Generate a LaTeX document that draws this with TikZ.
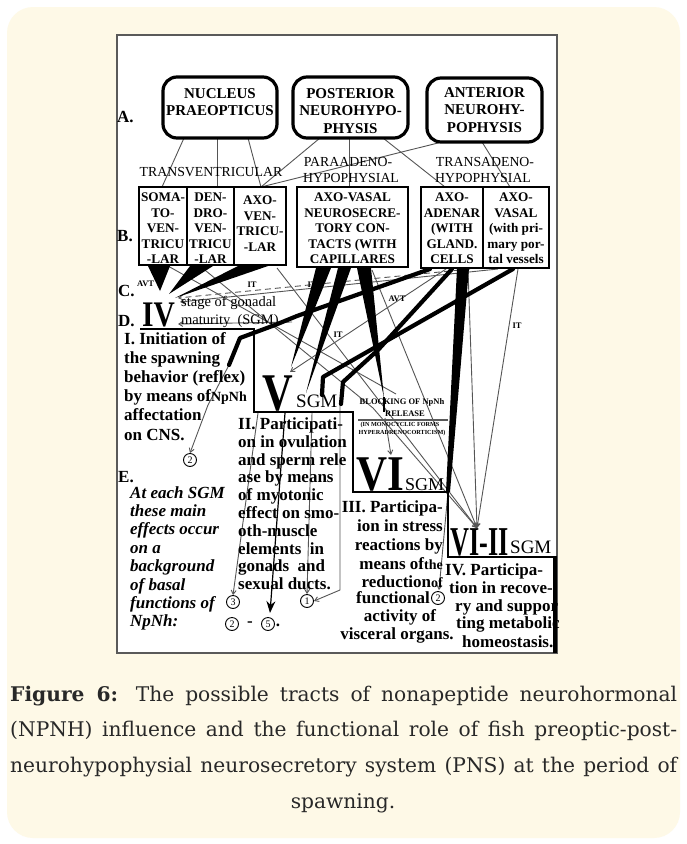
\documentclass[tikz,border=0pt]{standalone}
\usepackage{fontspec}
\setmainfont{Liberation Serif}
\newfontfamily\capfont{DejaVu Serif}
\usetikzlibrary{arrows.meta,calc}
\definecolor{cream}{RGB}{254,249,231}
\definecolor{capgray}{RGB}{40,40,40}
\definecolor{thinc}{RGB}{85,85,85}
\definecolor{framec}{RGB}{90,90,90}
\tikzset{
  abox/.style={draw=black,fill=white,line width=3.2pt,rounded corners=14pt,inner sep=0pt},
  bbox/.style={draw=black,fill=white,line width=2.6pt,inner sep=0pt},
  atxt/.style={font=\fontsize{15}{17.5}\selectfont\bfseries,align=center,inner sep=0pt},
  btxt/.style={font=\fontsize{13.2}{15.6}\selectfont\bfseries,align=center,inner sep=0pt},
  rtxt/.style={font=\fontsize{13.8}{16}\selectfont,inner sep=0pt},
  sec/.style={font=\fontsize{17}{19}\selectfont\bfseries,inner sep=0pt},
  esec/.style={font=\fontsize{17}{19}\selectfont\bfseries\itshape,inner sep=0pt},
  lab/.style={font=\fontsize{17}{19}\selectfont\bfseries,inner sep=0pt},
  tinytxt/.style={font=\fontsize{8.5}{9}\selectfont\bfseries,inner sep=0pt},
  microtxt/.style={font=\fontsize{6.2}{7}\selectfont\bfseries,inner sep=0pt},
  circ/.style={draw=black,circle,line width=0.9pt,inner sep=0pt,minimum size=13pt,font=\fontsize{10}{10}\selectfont},
  thinl/.style={draw=thinc,line width=0.9pt},
  arr/.style={-{Straight Barb[length=4pt,width=5pt]}},
  heavy/.style={draw=black,line width=4.2pt,line join=round,line cap=round},
  stair/.style={draw=black,line width=2.2pt,line join=miter},
  captxt/.style={font=\capfont\fontsize{20.2}{20.2}\selectfont,text=capgray,inner sep=0pt}
}
\begin{document}
\begin{tikzpicture}[x=1pt,y=-1pt]
\useasboundingbox (0,0) rectangle (687,844);
\fill[white] (0,0) rectangle (687,844);
\fill[cream,rounded corners=26pt] (7,7) rectangle (680,838);
\draw[fill=white,draw=framec,line width=1.2pt] (117,35) rectangle (557,653);

% ---------- thin connectors A -> B ----------
\draw[thinl] (184,138) -- (162,187);
\draw[thinl] (217,138) -- (217,187);
\draw[thinl] (248,138) -- (261,187);
\draw[thinl] (320,138) -- (261,187);
\draw[thinl] (442,142) -- (261,187);
\draw[thinl] (349,138) -- (349,187);
\draw[thinl] (383,138) -- (445,187);
\draw[thinl] (482,142) -- (510,187);

% ---------- thin connectors below B ----------
\coordinate (viitip) at (477,528);
\draw[thinl,arr] (498,269) -- (180,302);
\draw[thinl,arr] (292,322) -- (178,324);
\draw[thinl,dashed,dash pattern=on 6pt off 4pt,arr] (470,269) -- (178,298);
\draw[thinl] (168,266) -- (396,394);
\draw[thinl,arr] (200,266) -- (373,408) -- (viitip);
\draw[thinl,arr] (277,268) -- (viitip);
\draw[thinl,arr] (372,270) -- (viitip);
\draw[thinl,arr] (468,269) -- (viitip);
\draw[thinl,arr] (518,269) -- (viitip);
\draw[thinl,arr] (446,269) -- (290,372);
\draw[thinl,arr] (385,418) -- (391,455);
\draw[thinl,arr] (448,492) -- (439,590);

% ---------- bottom circled numbers ----------
\node[circ] (cIa) at (190,460) {2};
\node[circ] (c3) at (233,602) {3};
\node[circ] (c1) at (307,601) {1};
\node[circ] (c2b) at (232,624) {2};
\node[circ] (c5) at (268,624) {5};
\node[circ] (cIII) at (438,598) {2};
\node[sec] (dsh) at (250,624) {-};
\node[sec] (dt) at (278,625) {.};

\draw[thinl,arr] (229,365) -- (208,405) -- (cIa.north);
\draw[thinl,arr] (340,404) -- (340,590) -- (c1.east);
\draw[thinl,arr] (258,413) -- (c3.north);
\draw[thinl,arr] (312,413) -- (c1.north);
\draw[draw=black,line width=1.2pt,-{Stealth[length=12pt,width=9pt]}] (285,413) -- (270,613);

% ---------- heavy tracts ----------
\draw[heavy] (430,269) -- (297,316) -- (275,325) -- (240,338) -- (229,365);
\draw[heavy] (452,269) -- (378,350) -- (343,382) -- (341,404);
\draw[heavy] (513,269) -- (323,377) -- (322,395);
\fill (148,266) -- (170,266) -- (160,291) -- cycle;
\fill (190,266) -- (213,266) -- (169,294) -- cycle;
\fill (238,266) -- (268,266) -- (175,298) -- cycle;
\fill (316,268) -- (331,268) -- (291,367) -- cycle;
\fill (338,268) -- (351,268) -- (306,393) -- cycle;
\fill (357,268) -- (371,268) -- (384,398) -- cycle;
\fill (457,268) -- (469,268) -- (450,492) -- (446,492) -- cycle;
\draw[black,line width=2.5pt] (384,397) -- (384,412);
\draw[draw=black!65,line width=2pt] (358,420) -- (448,420);

% ---------- staircase ----------
\draw[stair] (140,329) -- (254,329) -- (254,412) -- (353,412) -- (353,492) -- (448,492) -- (448,557) -- (557,557);
\draw[black,line width=3.5pt] (555,557) -- (555,653);

% ---------- A boxes ----------
\node[abox,minimum width=114pt,minimum height=61pt] (np) at (220,107.5) {};
\node[abox,minimum width=115pt,minimum height=61pt] (pn) at (350.5,107.5) {};
\node[abox,minimum width=115pt,minimum height=64pt] (an) at (484.5,110) {};
\node[atxt,anchor=north] (npt) at (220,88) {NUCLEUS\\PRAEOPTICUS};
\node[atxt,anchor=north] (pnt) at (350.5,88) {POSTERIOR\\NEUROHYPO-\\PHYSIS};
\node[atxt,anchor=north] (ant) at (484.5,87) {ANTERIOR\\NEUROHY-\\POPHYSIS};

% ---------- B boxes ----------
\node[bbox,minimum width=48pt,minimum height=78pt] (soma) at (163,226) {};
\node[bbox,minimum width=47pt,minimum height=78pt] (dend) at (210.5,226) {};
\node[bbox,minimum width=52pt,minimum height=78pt] (axv) at (260,226) {};
\node[bbox,minimum width=111pt,minimum height=80pt] (capb) at (352.5,227) {};
\node[bbox,minimum width=62pt,minimum height=81pt] (ade) at (452,227.5) {};
\node[bbox,minimum width=66pt,minimum height=81pt] (avs) at (516,227.5) {};
\node[btxt,anchor=north] (somat) at (163,192.6) {SOMA-\\TO-\\VEN-\\TRICU\\-LAR};
\node[btxt,anchor=north] (dendt) at (210.5,192.6) {DEN-\\DRO-\\VEN-\\TRICU\\-LAR};
\node[btxt,anchor=north] (axvt) at (260,195.6) {AXO-\\VEN-\\TRICU-\\-LAR};
\node[btxt,anchor=north] (capt) at (352.5,192.6) {AXO-VASAL\\NEUROSECRE-\\TORY CON-\\TACTS (WITH\\CAPILLARES};
\node[btxt,anchor=north] (adet) at (452,192.6) {AXO-\\ADENAR\\(WITH\\GLAND.\\CELLS};
\node[btxt,anchor=north] (avst) at (516,192.6) {AXO-\\VASAL\\(with pri-\\mary por-\\tal vessels};

% ---------- tract names ----------
\node[rtxt] (tv) at (211,172) {TRANSVENTRICULAR};
\node[rtxt] (pa1) at (348,162) {PARAADENO-};
\node[rtxt] (pa2) at (351,178) {HYPOPHYSIAL};
\node[rtxt] (ta1) at (485,162) {TRANSADENO-};
\node[rtxt] (ta2) at (483,178) {HYPOPHYSIAL};

% ---------- row labels ----------
\node[lab,anchor=base west] (la) at (117,122) {A.};
\node[lab,anchor=base west] (lb) at (117,241) {B.};
\node[lab,anchor=base west] (lc) at (118,296) {C.};
\node[tinytxt,anchor=base west] (lavt) at (137,286) {AVT};
\node[lab,anchor=base west] (ld) at (118,326) {D.};
\node[lab,anchor=base west] (le) at (118,482) {E.};

\node[tinytxt] (it1) at (252,285) {IT};
\node[tinytxt] (it2) at (312,285) {IT};
\node[tinytxt] (it3) at (338,335) {IT};
\node[tinytxt] (it4) at (517,326) {IT};
\node[tinytxt] (avt2) at (397,299) {AVT};

% ---------- stage labels ----------
\node[inner sep=0pt,anchor=base west] (iv) at (142,326) {\scalebox{0.82}[1]{\fontsize{36}{36}\selectfont\bfseries IV}};
\node[font=\fontsize{14.5}{15}\selectfont,inner sep=0pt,anchor=base west] (stg) at (181,306) {stage of gonadal};
\node[font=\fontsize{14.5}{15}\selectfont,inner sep=0pt,anchor=base west] (mat) at (181,324) {maturity\ \ (SGM)};
\node[inner sep=0pt,anchor=base west] (v) at (262,410) {\scalebox{0.8}[1]{\fontsize{53}{53}\selectfont\bfseries V}};
\node[font=\fontsize{19}{19}\selectfont,inner sep=0pt,anchor=base west] (vs) at (296,407) {SGM};
\node[inner sep=0pt,anchor=base west] (vi) at (356,490) {\scalebox{0.86}[1]{\fontsize{50}{50}\selectfont\bfseries VI}};
\node[font=\fontsize{18}{18}\selectfont,inner sep=0pt,anchor=base west] (vis) at (405,490) {SGM};
\node[inner sep=0pt,anchor=base west] (vii) at (450,555) {\scalebox{0.64}[1]{\fontsize{41}{41}\selectfont\bfseries VI-II}};
\node[font=\fontsize{19}{19}\selectfont,inner sep=0pt,anchor=base west] (viis) at (510,553) {SGM};

\node[tinytxt] (blk) at (402,402) {BLOCKING OF NpNh};
\node[tinytxt] (rel) at (405,414) {RELEASE};
\node[microtxt] (mono) at (400,425) {(IN MONOCYCLIC FORMS};
\node[microtxt] (hyp) at (402,433) {HYPERADRENOCORTICISM)};

% ---------- section I ----------
\foreach \t [count=\i from 0] in {I. Initiation of,the spawning,behavior (reflex)}
  \node[sec,anchor=base west] (sa\i) at (124,{344+19.2*\i}) {\t};
\node[sec,anchor=base west] (sa3) at (124,401.6) {by means of\fontsize{14}{14}\selectfont NpNh};
\node[sec,anchor=base west] (sa4) at (124,420.8) {affectation};
\node[sec,anchor=base west] (sa5) at (124,440) {on CNS.};

% ---------- section E ----------
\foreach \t [count=\i from 0] in {At each SGM,these main,effects occur,on a,background,of basal,functions of,NpNh:}
  \node[esec,anchor=base west] (se\i) at (130,{498+18.4*\i}) {\t};

% ---------- section II ----------
\foreach \t [count=\i from 0] in {II. Participati-,on in ovulation,and sperm rele,ase by means,of myotonic,effect on smo-,oth-muscle,elements\ \ in,gonads\ \ and,sexual ducts.}
  \node[sec,anchor=base west] (sb\i) at (238,{429.5+17.8*\i}) {\t};

% ---------- section III ----------
\node[sec,anchor=base east] (sc0) at (443,512) {III. Participa-};
\node[sec,anchor=base east] (sc1) at (443,531) {ion in stress};
\node[sec,anchor=base east] (sc2) at (443,550) {reactions by};
\node[sec,anchor=base east] (sc3) at (443,569) {means of{\fontsize{14}{14}\selectfont the}};
\node[sec,anchor=base east] (sc4) at (443,587) {reduction{\fontsize{14}{14}\selectfont of}};
\node[sec,anchor=base west] (sc5) at (356,603) {functional};
\node[sec,anchor=base] (sc6) at (400,621) {activity of};
\node[sec,anchor=base] (sc7) at (397,639) {visceral organs.};

% ---------- section IV ----------
\node[sec,anchor=base west] (sd0) at (445,575) {IV. Participa-};
\node[sec,anchor=base west] (sd1) at (449,593) {tion in recove-};
\node[sec,anchor=base west] (sd2) at (455,611) {ry and suppor};
\node[sec,anchor=base west] (sd3) at (456,628) {ting metabolic};
\node[sec,anchor=base west] (sd4) at (462,647) {homeostasis.};

% ---------- caption ----------
\node[captxt,anchor=base west] (cap1) at (10,701) {\makebox[667pt][s]{\textbf{Figure 6:} The possible tracts of nonapeptide neurohormonal}};
\node[captxt,anchor=base west] (cap2) at (10,736) {\makebox[667pt][s]{(NPNH) influence and the functional role of fish preoptic-post-}};
\node[captxt,anchor=base west] (cap3) at (10,772) {\makebox[667pt][s]{neurohypophysial neurosecretory system (PNS) at the period of}};
\node[captxt,anchor=base] (cap4) at (343,808) {spawning.};
\end{tikzpicture}
\end{document}
